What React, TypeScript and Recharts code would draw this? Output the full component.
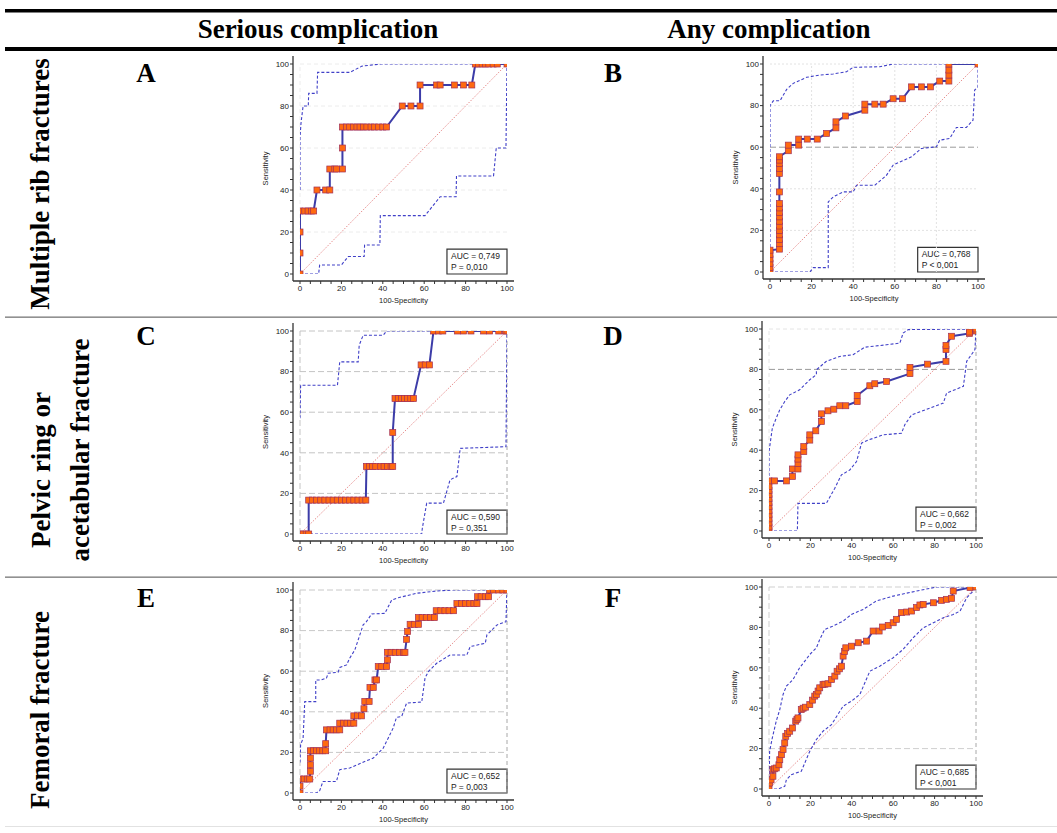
import React from 'react';
import { LineChart, Line, XAxis, YAxis, ReferenceLine, ReferenceArea, Label } from 'recharts';

type P = [number, number];

// ---------- data ----------
const rocA: P[] = [[0,0],[0,10],[0,20],[0,30],[2.3,30],[3.9,30],[5.5,30],[6.6,30],[8.2,40],[12.4,40],[14.4,40],[14.4,50],[16.8,50],[17.6,50],[20.5,50],[20.5,60],[20.5,70],[22.5,70],[24,70],[25.8,70],[27.5,70],[29,70],[30.7,70],[32.3,70],[34.3,70],[36,70],[38,70],[40,70],[41.8,70],[49.4,80],[53.6,80],[58,80],[58,90],[66,90],[67.7,90],[74.6,90],[79,90],[83,90],[84.7,100],[86.3,100],[88,100],[89.6,100],[91.2,100],[93.3,100],[95.3,100],[100,100]];
const upA: P[] = [[0,40],[0,65],[0.5,72],[1.5,80],[4,80],[4.2,86],[8.2,86],[8.5,96],[24,96],[26,97],[30,99],[39,100],[100,100]];
const loA: P[] = [[0,0],[9,0],[9.5,4.3],[20,4.3],[23.3,8.3],[31,8.3],[31.2,13.8],[38.6,13.8],[38.8,27.8],[60.4,27.8],[67.7,36.8],[75.4,36.8],[75.6,46.7],[93.5,46.7],[94.8,60],[99.5,60],[100,100]];

const rocB: P[] = [[0,0],[0,2.1],[0,4.2],[0,6.3],[0,8.4],[0,10.5],[4.5,11],[4.5,13.6],[4.5,15.7],[4.5,17.9],[4.5,20],[4.5,22.1],[4.5,24.4],[4.5,26.5],[4.5,28.6],[4.5,30.8],[4.5,32.9],[4.5,38.5],[4.5,47.4],[4.5,49.8],[4.5,52.2],[4.5,53.8],[4.5,55.4],[8.8,58.3],[8.8,61],[13.8,61],[13.8,63.9],[17.9,63.9],[22.7,63.9],[27.2,66.6],[31.7,69.3],[31.7,72.2],[36.3,75],[45.6,77.8],[45.6,80.7],[50.4,80.7],[54.4,80.7],[59.2,83.3],[63.7,83.3],[68,89],[72.8,89],[77.1,89],[81.6,91.8],[86,91.8],[86,94.7],[86,97.1],[86,100],[100,100]];
const upB: P[] = [[0,0],[0,80],[1.6,82.3],[4.8,82.3],[8,87.8],[11.2,90.7],[17.6,93.6],[24,94.7],[30.4,95.2],[36.8,96.3],[40,98.4],[52.8,98.7],[59.2,100],[100,100]];
const loB: P[] = [[0,0],[19.2,0],[20.8,2.1],[28,2.1],[28,33.7],[30.4,36.1],[35.2,38.5],[40,38.5],[41.6,41.7],[50.4,41.7],[56,46.5],[59.2,51.4],[68,55.4],[72.8,59.4],[80,60.2],[81.6,63.4],[86.4,64.2],[89.6,69.5],[94.4,69.5],[97.6,73],[98.4,87.5],[100,89],[100,100]];

const rocC: P[] = [[0,0],[1.5,0],[3,0],[4.2,0],[4.2,16.7],[6,16.7],[8,16.7],[10,16.7],[12,16.7],[14,16.7],[16,16.7],[18,16.7],[20,16.7],[22,16.7],[24,16.7],[26,16.7],[28,16.7],[30,16.7],[31.8,16.7],[32.1,33.3],[33.6,33.3],[35.1,33.3],[36.6,33.3],[39,33.3],[40.6,33.3],[42.2,33.3],[44,33.3],[44.8,33.3],[44.8,50],[45.9,66.7],[47.5,66.7],[49,66.7],[50.5,66.7],[52,66.7],[53.5,66.7],[54.8,66.7],[58.5,83.3],[60.5,83.3],[62.5,83.3],[64.5,100],[66.9,100],[69,100],[76,100],[79,100],[82.6,100],[88.7,100],[91.6,100],[96,100],[99.2,100],[100,100]];
const upC: P[] = [[0,57],[0.3,73.3],[18.1,73.3],[19.2,84.8],[28.1,84.8],[28.6,93],[30.5,97.9],[40.2,97.9],[41.8,100],[100,100]];
const loC: P[] = [[0,0],[58.8,0],[59.1,2.9],[61.2,15.2],[69.3,15.2],[72.5,26.7],[75.8,28.3],[77.4,42.2],[99.5,43],[100,100]];

const rocD: P[] = [[0,0],[0,2],[0,4],[0,6],[0,8],[0,10],[0,12],[0,14],[0,16],[0,18],[0,20],[0,22],[0,24.8],[2.7,24.8],[8.4,24.8],[11.3,27],[11.3,30.7],[14,30.7],[14,33.5],[14,35.6],[14,37.7],[16.8,39.3],[16.8,41.8],[19.7,45],[19.7,47.6],[22.6,49.6],[25.3,54.2],[25.3,58],[28.5,59.5],[31.3,60.3],[34.2,62],[37.1,62],[42.6,64.1],[42.6,67.1],[48.7,71.9],[51.1,72.9],[56.8,74],[68.1,77.9],[68.1,81],[76.6,82.6],[85.5,84],[85.5,89.8],[85.5,91.9],[88.2,96.4],[96.8,97.8],[96.8,98.5],[100,99],[100,100]];
const upD: P[] = [[0,0],[0,39.3],[1.6,50.9],[3.5,55.9],[5.2,60],[7.6,64.1],[10,67.4],[14.8,69.9],[19.7,74.9],[22.9,77.4],[22.9,79.8],[27.7,84],[34.2,86.4],[40.6,87.3],[46.3,91],[56.8,92.2],[63.2,93],[64.8,98],[67.3,99.7],[100,100]];
const loD: P[] = [[0,0],[13.7,0],[14,13.7],[27.7,13.7],[31.8,21.2],[35,27.8],[39,30.2],[42.3,34.4],[44.7,43.5],[47.9,45],[55.2,47.6],[64,48.4],[65.6,52.6],[68.9,57.5],[77.7,60.8],[84.2,63.3],[85.8,68.3],[93.9,71.6],[95.5,84],[99.5,89.8],[100,100]];

const rocE: P[] = [[0,0],[0,3.4],[0,6.9],[2,6.9],[3.5,6.9],[4.7,6.9],[5,10.7],[5,13.9],[5,17.2],[5,20.8],[6.5,20.8],[8,20.8],[9.5,20.8],[11,20.8],[12.4,20.8],[12.4,24.3],[12.8,31.1],[14.5,31.1],[16,31.1],[17.6,31.1],[19.2,31.1],[19.2,34.4],[21,34.4],[22.7,34.4],[24.4,34.4],[26,34.4],[26,38],[27.8,38],[29.7,38],[30.9,41.5],[31.3,45.1],[33.4,45.1],[33.8,52],[35.4,52],[36.2,55.7],[37,55.7],[37.8,62.3],[39.5,62.3],[41.8,62.3],[42.2,65.6],[42.2,69.3],[44,69.3],[46,69.3],[48,69.3],[50,69.3],[50.7,69.3],[51.5,75.7],[52,79.5],[53.2,83.1],[55.2,83.1],[57.2,83.1],[57.2,86.4],[59,86.4],[61,86.4],[63,86.4],[64.9,86.4],[65.8,89.8],[68,89.8],[70,89.8],[72,89.8],[74.2,89.8],[75.8,93.3],[78,93.3],[80,93.3],[82,93.3],[84,93.3],[85.5,93.3],[85.8,96.7],[87.5,96.7],[89.5,96.7],[91.1,96.7],[91.6,100],[93.5,100],[96,100],[98,100],[100,100]];
const upE: P[] = [[0,15],[0.3,23.8],[1.5,27],[2.3,45],[7.6,45],[7.6,55.7],[10.3,55.7],[12.8,56.6],[13.6,59],[18.4,59.5],[19.2,61.8],[22.5,63.1],[24,66.4],[26.5,70.5],[28.1,75.4],[30.5,82.8],[32.1,84.4],[34.6,88.2],[41,88.5],[44.3,95.1],[47.5,96.2],[56.4,98.4],[66,99.5],[74,100],[100,100]];
const loE: P[] = [[0,0],[7.9,0],[9.5,1.1],[11.1,5.7],[17.6,5.7],[19.2,11.5],[24,12.3],[32.1,15.9],[35.4,17.2],[40.2,22.1],[42.6,27],[45,32],[46.6,37.2],[49.1,37.7],[51.5,44.3],[58.8,44.8],[60.4,56.6],[62,59.8],[66,63.9],[72.5,68],[80.6,68],[82.2,72.1],[89.5,73.8],[90.3,77.9],[95.2,82.8],[99.5,84.4],[100,100]];

const rocF: P[] = [[0,0],[0.3,3],[1,4.5],[1.9,6.3],[1.9,9.6],[2.6,10],[3.5,10.4],[4.8,12],[5.2,14.5],[6,17],[6.8,19.5],[7.6,22.8],[8.1,26.1],[9,27.5],[10,28.6],[11.3,30.2],[12.9,33.6],[13.5,34.5],[14,35.2],[15.6,39.3],[16.5,40],[17.7,40.5],[19.7,41.8],[21,44],[22.1,46],[22.9,46.8],[23.7,48.5],[24.5,50.1],[26.1,51.7],[27,51.9],[28.5,52.1],[30.2,54.2],[31.8,55.9],[32.9,58.3],[34,59.5],[35,60.8],[35.8,65.8],[36.5,68],[37.1,69.9],[39.8,70.7],[43.1,72.4],[47.1,73.2],[50.3,78.2],[53.2,78.2],[54.8,80.2],[57.6,81],[60,82.3],[61.6,84],[64,87.3],[66.5,87.6],[68.9,88.1],[71.3,89.8],[72.9,91.1],[74.5,91.4],[79.4,92.2],[83.4,93.4],[85.8,93.9],[88.2,94.4],[89,98],[97.1,99.7],[100,100]];
const upF: P[] = [[0,0],[0.3,18.7],[1.6,25.3],[3.5,33.6],[5.2,39.3],[6.8,46.8],[8.4,50.9],[11.6,54.2],[14.8,60],[17.3,63.3],[19.7,66.6],[22.9,69.9],[24.5,74],[26.9,79],[31,80.7],[35.8,83.1],[39.8,86.4],[45.5,88.9],[51.9,93.1],[60,95.5],[71.3,98],[81,100],[100,100]];
const loF: P[] = [[0,0],[4.4,0],[7.6,1.3],[8.4,4.6],[10.8,7.1],[15.6,8.8],[19.7,18.7],[22.9,24.5],[26.1,28.6],[30.2,31.9],[35.8,41],[39.8,43.5],[43.9,46.8],[48.7,58.3],[53.5,60.8],[60,65],[64.8,69.1],[69.7,74.9],[74.5,79.8],[79.4,82.3],[84.2,84.8],[89,86.4],[92.3,88.1],[95.5,94.7],[98.7,98],[100,100]];

const diagonal: P[] = [[0,0],[100,100]];

const aucLabels = ['AUC = 0,749','AUC = 0,768','AUC = 0,590','AUC = 0,662','AUC = 0,652','AUC = 0,685'];
const pLabels = ['P = 0,010','P < 0,001','P = 0,351','P = 0,002','P = 0,003','P < 0,001'];
const panelLetters = ['A','B','C','D','E','F'];
const columnHeaders = ['Serious complication','Any complication'];

const axisTicks = [0,5,10,15,20,25,30,35,40,45,50,55,60,65,70,75,80,85,90,95,100];

// ---------- styles ----------
const SANS = '"Liberation Sans", Arial, sans-serif';
const SERIF = '"Liberation Serif", "Times New Roman", serif';

interface GridSpec { h: number[]; v: number[]; color: string; dash: string; darkH: number[]; darkV: number[]; }

interface PanelCfg {
  x0: number; x100: number; y100: number; y0: number;
  roc: P[]; up: P[]; lo: P[]; idx: number; grid: GridSpec;
}

const toObj = (a: P[]) => a.map(([x, y]) => ({ x, y }));
const fmt = (v: number) => (v % 20 === 0 ? String(v) : '');

const panels: PanelCfg[] = [
  { x0: 300, x100: 507, y100: 64, y0: 274, roc: rocA, up: upA, lo: loA, idx: 0,
    grid: { h: [20, 40, 60, 80, 100], v: [0], color: '#ececec', dash: '4 3', darkH: [], darkV: [] } },
  { x0: 770, x100: 978, y100: 64, y0: 272, roc: rocB, up: upB, lo: loB, idx: 1,
    grid: { h: [20, 40, 80, 100], v: [20, 40, 60, 80], color: '#e2e2e2', dash: '2 2', darkH: [60], darkV: [] } },
  { x0: 300, x100: 507, y100: 331, y0: 534, roc: rocC, up: upC, lo: loC, idx: 2,
    grid: { h: [20, 40, 60, 80, 100], v: [0], color: '#c4c4c4', dash: '6 3', darkH: [], darkV: [100] } },
  { x0: 769, x100: 976, y100: 329, y0: 531, roc: rocD, up: upD, lo: loD, idx: 3,
    grid: { h: [100], v: [0], color: '#e4e4e4', dash: '4 3', darkH: [80], darkV: [100] } },
  { x0: 300, x100: 507, y100: 590, y0: 793, roc: rocE, up: upE, lo: loE, idx: 4,
    grid: { h: [20, 40, 60, 80, 100], v: [0], color: '#c8c8c8', dash: '6 3', darkH: [], darkV: [100] } },
  { x0: 769, x100: 976, y100: 587, y0: 789, roc: rocF, up: upF, lo: loF, idx: 5,
    grid: { h: [20, 100], v: [0], color: '#cfcfcf', dash: '6 3', darkH: [], darkV: [100] } },
];

const Square = (props: any) => {
  const { cx, cy, index } = props;
  if (cx == null || cy == null) return <g key={`e${index}`} />;
  return (
    <rect key={`s${index}`} x={cx - 3} y={cy - 3} width={6} height={6}
      fill="#ff6a10" stroke="#a0305a" strokeWidth={0.7} />
  );
};

function RocPanel({ cfg }: { cfg: PanelCfg }) {
  const padL = 7, padR = 7, padT = 8, padB = 7;
  const YW = 40, ML = 2, MT = 4, MR = 6, XH = 26, MB = 2;
  const plotLeft = cfg.x0 - padL;
  const plotTop = cfg.y100 - padT;
  const plotW = cfg.x100 - cfg.x0 + padL + padR;
  const plotH = cfg.y0 - cfg.y100 + padT + padB;
  const width = ML + YW + plotW + MR;
  const height = MT + plotH + XH + MB;
  const g = cfg.grid;

  const yLabel = (p: any) => {
    const vb = p.viewBox || {};
    const cx = vb.x + vb.width - 28;
    const cy = vb.y + vb.height / 2;
    return (
      <text x={cx} y={cy} transform={`rotate(-90 ${cx} ${cy})`} textAnchor="middle"
        dominantBaseline="central" fontSize={7.5} fill="#222" fontFamily={SANS}>Sensitivity</text>
    );
  };
  const xLabel = (p: any) => {
    const vb = p.viewBox || {};
    return (
      <text x={vb.x + vb.width / 2} y={vb.y + 19} textAnchor="middle" dominantBaseline="central"
        fontSize={7.5} fill="#222" fontFamily={SANS}>100-Specificity</text>
    );
  };
  const boxLabel = (p: any) => {
    const vb = p.viewBox || {};
    return (
      <g>
        <text x={vb.x + 4} y={vb.y + 10} fontSize={8.5} fill="#222" fontFamily={SANS}>{aucLabels[cfg.idx]}</text>
        <text x={vb.x + 4} y={vb.y + 20.5} fontSize={8.5} fill="#222" fontFamily={SANS}>{pLabels[cfg.idx]}</text>
      </g>
    );
  };

  const tickStyle = { fontSize: 8, fill: '#222', fontFamily: SANS };

  return (
    <div style={{ position: 'absolute', left: plotLeft - YW - ML, top: plotTop - MT }}>
      <LineChart width={width} height={height} margin={{ top: MT, right: MR, bottom: MB, left: ML }}>
        <XAxis type="number" dataKey="x" domain={[0, 100]} ticks={axisTicks} interval={0}
          padding={{ left: padL, right: padR }} height={XH} tickSize={3} tickMargin={1}
          tickFormatter={fmt} tick={tickStyle} axisLine={{ stroke: '#333', strokeWidth: 1.3 }}
          tickLine={{ stroke: '#333' }} allowDataOverflow>
          <Label content={xLabel} />
        </XAxis>
        <YAxis type="number" dataKey="y" domain={[0, 100]} ticks={axisTicks} interval={0}
          padding={{ top: padT, bottom: padB }} width={YW} tickSize={3} tickMargin={1}
          tickFormatter={fmt} tick={tickStyle} axisLine={{ stroke: '#333', strokeWidth: 1.3 }}
          tickLine={{ stroke: '#333' }} allowDataOverflow>
          <Label content={yLabel} />
        </YAxis>
        {g.h.map((v) => (
          <ReferenceLine key={`h${v}`} segment={[{ x: 0, y: v }, { x: 100, y: v }]} stroke={g.color} strokeDasharray={g.dash} strokeWidth={1} />
        ))}
        {g.v.map((v) => (
          <ReferenceLine key={`v${v}`} segment={[{ x: v, y: 0 }, { x: v, y: 100 }]} stroke={g.color} strokeDasharray={g.dash} strokeWidth={1} />
        ))}
        {g.darkH.map((v) => (
          <ReferenceLine key={`dh${v}`} segment={[{ x: 0, y: v }, { x: 100, y: v }]} stroke="#9a9a9a" strokeDasharray="6 3" strokeWidth={1} />
        ))}
        {g.darkV.map((v) => (
          <ReferenceLine key={`dv${v}`} segment={[{ x: v, y: 0 }, { x: v, y: 100 }]} stroke="#a8a8a8" strokeDasharray="4 3" strokeWidth={1} />
        ))}
        <Line data={toObj(diagonal)} dataKey="y" stroke="#e07070" strokeWidth={0.8} strokeDasharray="1.5 1.5" dot={false} isAnimationActive={false} />
        <Line data={toObj(cfg.up)} dataKey="y" stroke="#4040c8" strokeWidth={1.1} strokeDasharray="3 2" dot={false} isAnimationActive={false} />
        <Line data={toObj(cfg.lo)} dataKey="y" stroke="#4040c8" strokeWidth={1.1} strokeDasharray="3 2" dot={false} isAnimationActive={false} />
        <Line data={toObj(cfg.roc)} dataKey="y" stroke="#3c3ca8" strokeWidth={2} dot={Square} activeDot={false} isAnimationActive={false} />
        <ReferenceArea x1={71} x2={100} y1={0} y2={11.8} fill="#ffffff" fillOpacity={1} stroke="#333" strokeWidth={1.2}>
          <Label content={boxLabel} />
        </ReferenceArea>
      </LineChart>
    </div>
  );
}

export default function App() {
  const letterPos: [number, number][] = [[146, 82], [613, 82], [146, 345], [613, 345], [146, 607], [613, 607]];
  return (
    <div style={{ position: 'absolute', left: 0, top: 0, width: 1057, height: 833, background: '#fff', overflow: 'hidden' }}>
      <svg width={1057} height={833} style={{ position: 'absolute', left: 0, top: 0 }}>
        <rect x={5} y={9} width={1052} height={3.5} fill="#000" />
        <rect x={5} y={47} width={1052} height={4} fill="#000" />
        <rect x={5} y={316.5} width={1052} height={1.3} fill="#777" />
        <rect x={5} y={576.5} width={1052} height={1.3} fill="#777" />
        <rect x={5} y={826} width={1052} height={1} fill="#e2e2e2" />
        <g fontFamily={SERIF} fontWeight="bold" fontSize={27} fill="#000">
          <text x={318} y={38} textAnchor="middle">{columnHeaders[0]}</text>
          <text x={769} y={38} textAnchor="middle">{columnHeaders[1]}</text>
          {panelLetters.map((l, i) => (
            <text key={l} x={letterPos[i][0]} y={letterPos[i][1]} textAnchor="middle">{l}</text>
          ))}
          <text transform="translate(49,184) rotate(-90)" textAnchor="middle">Multiple rib fractures</text>
          <text transform="translate(50,470) rotate(-90)" textAnchor="middle">Pelvic ring or</text>
          <text transform="translate(89,450) rotate(-90)" textAnchor="middle">acetabular fracture</text>
          <text transform="translate(49,710) rotate(-90)" textAnchor="middle">Femoral fracture</text>
        </g>
      </svg>
      {panels.map((p) => (
        <RocPanel key={p.idx} cfg={p} />
      ))}
    </div>
  );
}
